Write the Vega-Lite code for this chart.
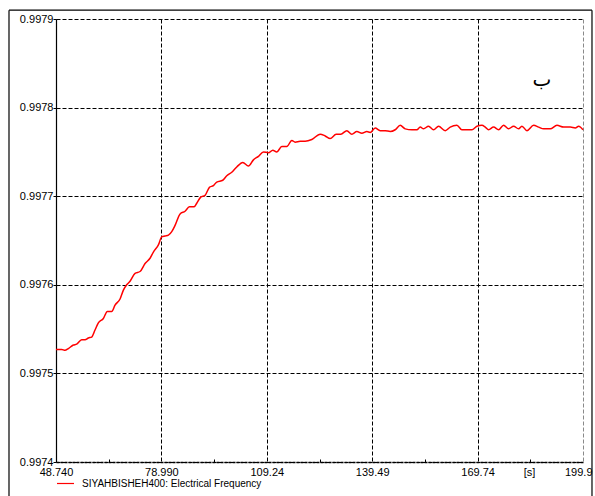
{
  "$schema": "https://vega.github.io/schema/vega-lite/v6.json",
  "autosize": "none",
  "width": 527,
  "height": 443,
  "padding": {"left": 56, "top": 19, "right": 12, "bottom": 34},
  "background": "white",
  "config": {
    "view": {"stroke": null},
    "axis": {"labelFont": "Liberation Sans", "labelFontSize": 11, "labelColor": "black", "titleFont": "Liberation Sans", "titleColor": "black"}
  },
  "layer": [
    {
      "data": {
        "values": [
          {"t": 48.74, "f": 0.997527}, {"t": 50.37, "f": 0.997527}, {"t": 51.32, "f": 0.997526}, {"t": 52.28, "f": 0.997528},
          {"t": 53.72, "f": 0.997532}, {"t": 54.68, "f": 0.997533}, {"t": 56.11, "f": 0.997538}, {"t": 57.07, "f": 0.997538},
          {"t": 58.03, "f": 0.99754}, {"t": 58.98, "f": 0.997541}, {"t": 59.94, "f": 0.997549}, {"t": 60.9, "f": 0.997557},
          {"t": 62.33, "f": 0.997562}, {"t": 63.48, "f": 0.99757}, {"t": 64.73, "f": 0.99757}, {"t": 65.68, "f": 0.997577},
          {"t": 67.12, "f": 0.997584}, {"t": 68.08, "f": 0.997594}, {"t": 69.03, "f": 0.9976}, {"t": 69.99, "f": 0.997604},
          {"t": 71.43, "f": 0.997613}, {"t": 72.86, "f": 0.997615}, {"t": 74.3, "f": 0.997624}, {"t": 75.73, "f": 0.99763},
          {"t": 76.69, "f": 0.997637}, {"t": 78.13, "f": 0.997645}, {"t": 79.08, "f": 0.997654}, {"t": 80.04, "f": 0.997655},
          {"t": 81.0, "f": 0.997656}, {"t": 81.96, "f": 0.99766}, {"t": 82.91, "f": 0.997667}, {"t": 84.35, "f": 0.99768},
          {"t": 85.78, "f": 0.997683}, {"t": 87.03, "f": 0.997688}, {"t": 88.37, "f": 0.997688}, {"t": 89.14, "f": 0.997692},
          {"t": 90.28, "f": 0.997699}, {"t": 91.53, "f": 0.997701}, {"t": 92.77, "f": 0.99771}, {"t": 93.92, "f": 0.997712},
          {"t": 94.88, "f": 0.997716}, {"t": 96.6, "f": 0.997718}, {"t": 97.75, "f": 0.997723}, {"t": 99.19, "f": 0.997727},
          {"t": 100.62, "f": 0.997733}, {"t": 102.35, "f": 0.997738}, {"t": 103.97, "f": 0.997734}, {"t": 105.41, "f": 0.997741},
          {"t": 106.84, "f": 0.997745}, {"t": 108.28, "f": 0.99775}, {"t": 109.71, "f": 0.997749}, {"t": 110.96, "f": 0.997752},
          {"t": 112.11, "f": 0.99775}, {"t": 113.55, "f": 0.997756}, {"t": 114.98, "f": 0.997756}, {"t": 116.42, "f": 0.997763},
          {"t": 117.37, "f": 0.997761}, {"t": 118.81, "f": 0.997762}, {"t": 120.25, "f": 0.997762}, {"t": 122.16, "f": 0.997764},
          {"t": 124.55, "f": 0.99777}, {"t": 125.99, "f": 0.997768}, {"t": 127.42, "f": 0.997765}, {"t": 129.15, "f": 0.99777},
          {"t": 130.49, "f": 0.99777}, {"t": 132.21, "f": 0.997774}, {"t": 133.65, "f": 0.99777}, {"t": 135.08, "f": 0.997773},
          {"t": 136.52, "f": 0.997771}, {"t": 137.96, "f": 0.997773}, {"t": 138.91, "f": 0.997772}, {"t": 140.35, "f": 0.997777},
          {"t": 141.78, "f": 0.997774}, {"t": 143.22, "f": 0.997774}, {"t": 144.65, "f": 0.997773}, {"t": 146.09, "f": 0.997775},
          {"t": 147.53, "f": 0.99778}, {"t": 148.96, "f": 0.997776}, {"t": 150.88, "f": 0.997775}, {"t": 152.31, "f": 0.997775},
          {"t": 153.27, "f": 0.997778}, {"t": 154.23, "f": 0.997776}, {"t": 155.66, "f": 0.997779}, {"t": 157.1, "f": 0.997775},
          {"t": 158.53, "f": 0.997779}, {"t": 160.45, "f": 0.997774}, {"t": 161.88, "f": 0.997778}, {"t": 163.8, "f": 0.99778},
          {"t": 165.23, "f": 0.997775}, {"t": 166.67, "f": 0.997775}, {"t": 168.11, "f": 0.997775}, {"t": 169.54, "f": 0.997779},
          {"t": 170.98, "f": 0.99778}, {"t": 171.94, "f": 0.997778}, {"t": 172.89, "f": 0.997775}, {"t": 174.33, "f": 0.997778},
          {"t": 175.76, "f": 0.997775}, {"t": 177.2, "f": 0.99778}, {"t": 178.64, "f": 0.997776}, {"t": 180.07, "f": 0.997779},
          {"t": 181.51, "f": 0.997776}, {"t": 182.46, "f": 0.997779}, {"t": 183.9, "f": 0.997774}, {"t": 185.82, "f": 0.99778},
          {"t": 187.25, "f": 0.997778}, {"t": 188.69, "f": 0.997776}, {"t": 190.6, "f": 0.997776}, {"t": 192.52, "f": 0.99778},
          {"t": 194.43, "f": 0.997778}, {"t": 196.34, "f": 0.997778}, {"t": 197.78, "f": 0.997777}, {"t": 198.74, "f": 0.997779},
          {"t": 199.98, "f": 0.997775}
        ]
      },
      "mark": {"type": "line", "strokeWidth": 1.5, "interpolate": "monotone"},
      "encoding": {
        "x": {
          "field": "t", "type": "quantitative",
          "scale": {"domain": [48.74, 199.99], "nice": false, "zero": false},
          "axis": {
            "values": [48.74, 63.865, 78.99, 94.115, 109.24, 124.365, 139.49, 154.615, 169.74, 184.865, 199.99],
            "labelExpr": "abs((datum.value-48.74)/30.25 - round((datum.value-48.74)/30.25)) > 0.25 ? '' : (datum.value > 199 ? '199.9' : (datum.value < 100 ? format(datum.value, '.3f') : format(datum.value, '.2f')))",
            "labelFlush": false,
            "labelOverlap": false,
            "labelPadding": 4,
            "labelAlign": {"condition": {"test": "datum.value > 199", "value": "right"}, "value": "center"},
            "labelOffset": {"condition": {"test": "datum.value > 199", "value": 9}, "value": 0},
            "tickColor": "black",
            "tickSize": {"condition": {"test": "abs((datum.value-48.74)/30.25 - round((datum.value-48.74)/30.25)) > 0.25", "value": -3}, "value": 0},
            "grid": true,
            "gridDash": [4, 2],
            "gridOpacity": {"condition": {"test": "abs((datum.value-48.74)/30.25 - round((datum.value-48.74)/30.25)) > 0.25", "value": 0}, "value": 1},
            "gridColor": {"condition": {"test": "datum.value > 199", "value": "#8a8a8a"}, "value": "black"},
            "domainColor": "black",
            "domainWidth": 1.5,
            "domainDash": [3, 1],
            "title": "[s]",
            "titleX": 473,
            "titleY": 10,
            "titleAlign": "center",
            "titleBaseline": "middle",
            "titleFontSize": 11,
            "titleFontWeight": "normal"
          }
        },
        "y": {
          "field": "f", "type": "quantitative",
          "scale": {"domain": [0.9974, 0.9979], "nice": false, "zero": false},
          "axis": {
            "values": [0.9974, 0.9975, 0.9976, 0.9977, 0.9978, 0.9979],
            "format": ".4f",
            "labelFlush": false,
            "labelPadding": 0,
            "tickSize": 3,
            "tickColor": "black",
            "grid": true,
            "gridDash": [4, 2],
            "gridColor": "black",
            "domainColor": "black",
            "domainWidth": 1.2,
            "title": null
          }
        },
        "color": {
          "datum": "SIYAHBISHEH400: Electrical Frequency",
          "scale": {"range": ["#ff0000"]},
          "legend": {
            "orient": "none",
            "legendX": 0,
            "legendY": 455,
            "title": null,
            "padding": 0,
            "symbolType": "stroke",
            "symbolSize": 290,
            "symbolStrokeWidth": 1.2,
            "labelOffset": 7,
            "labelLimit": 400,
            "labelFont": "Liberation Sans",
            "labelFontSize": 10,
            "labelColor": "black"
          }
        }
      }
    },
    {
      "data": {"values": [{"t": 188.2, "f": 0.997831, "note": "ب"}]},
      "mark": {"type": "text", "font": "DejaVu Sans", "fontSize": 20, "color": "black"},
      "encoding": {
        "x": {"field": "t", "type": "quantitative"},
        "y": {"field": "f", "type": "quantitative"},
        "text": {"field": "note"}
      }
    },
    {
      "data": {"values": [{}]},
      "mark": {"type": "rule", "color": "black", "strokeWidth": 1.2},
      "encoding": {"x": {"datum": 35.25}, "x2": {"datum": 202.57}, "y": {"datum": 0.99791}}
    },
    {
      "data": {"values": [{}]},
      "mark": {"type": "rule", "color": "black", "strokeWidth": 1.2},
      "encoding": {"x": {"datum": 35.25}, "y": {"datum": 0.99791}, "y2": {"datum": 0.99735}}
    },
    {
      "data": {"values": [{}]},
      "mark": {"type": "rule", "color": "black", "strokeWidth": 1.2},
      "encoding": {"x": {"datum": 202.57}, "y": {"datum": 0.99791}, "y2": {"datum": 0.99735}}
    }
  ]
}
